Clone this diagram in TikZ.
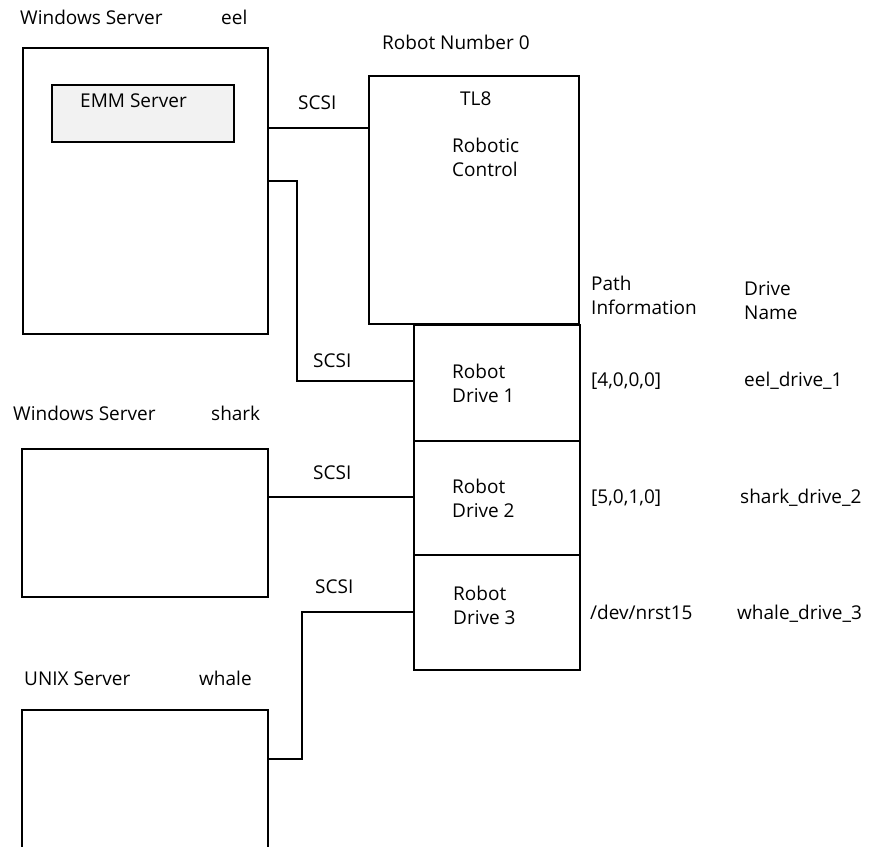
\documentclass[tikz,border=0pt]{standalone}
\usepackage{fontspec}
\setmainfont{Open Sans}
\begin{document}
\begin{tikzpicture}[x=1pt,y=-1pt,
  every node/.style={font=\fontsize{19}{24}\selectfont},
  box/.style={draw, line width=1.5pt, rectangle, inner sep=0pt, anchor=north west},
  lbl/.style={inner sep=0pt, anchor=base west},
  mlbl/.style={inner sep=0pt, anchor=west, align=left},
  wire/.style={line width=1.5pt}]
\clip (0,0) rectangle (877,846);
% boxes
\node[box, minimum width=245pt, minimum height=286pt] (eel) at (22,47) {};
\node[box, fill=black!5, minimum width=182pt, minimum height=57pt] (emm) at (51,84) {};
\node[box, minimum width=210pt, minimum height=248pt] (robot) at (368,75) {};
\node[box, minimum width=166pt, minimum height=116pt] (drive1) at (413,324) {};
\node[box, minimum width=166pt, minimum height=114pt] (drive2) at (413,440) {};
\node[box, minimum width=166pt, minimum height=115pt] (drive3) at (413,554) {};
\node[box, minimum width=246pt, minimum height=148pt] (shark) at (21,448) {};
\node[box, minimum width=246pt, minimum height=160pt] (whale) at (21,709) {};
% labels
\node[lbl] (t1) at (20,24) {Windows Server};
\node[lbl] (t2) at (221,24) {eel};
\node[lbl] (t3) at (382,49) {Robot Number 0};
\node[lbl] (t4) at (80,107) {EMM Server};
\node[lbl] (s1) at (298,109) {SCSI};
\node[lbl] (t5) at (460,105) {TL8};
\node[mlbl] (t6) at (452,157) {Robotic\\Control};
\node[mlbl] (t7) at (591,295) {Path\\Information};
\node[mlbl] (t8) at (744,301) {Drive\\Name};
\node[lbl] (s2) at (313,367) {SCSI};
\node[mlbl] (d1) at (452,383) {Robot\\Drive 1};
\node[lbl] (p1) at (591,386) {[4,0,0,0]};
\node[lbl] (n1) at (744,386) {eel\_drive\_1};
\node[lbl] (t9) at (13,420) {Windows Server};
\node[lbl] (t10) at (211,420) {shark};
\node[lbl] (s3) at (313,479) {SCSI};
\node[mlbl] (d2) at (452,498) {Robot\\Drive 2};
\node[lbl] (p2) at (591,503) {[5,0,1,0]};
\node[lbl] (n2) at (740,503) {shark\_drive\_2};
\node[lbl] (s4) at (315,593) {SCSI};
\node[mlbl] (d3) at (453,605) {Robot\\Drive 3};
\node[lbl] (p3) at (590,619) {/dev/nrst15};
\node[lbl] (n3) at (737,619) {whale\_drive\_3};
\node[lbl] (t11) at (24,685) {UNIX Server};
\node[lbl] (t12) at (199,685) {whale};
% connectors
\coordinate (c1) at (0,128);
\draw[wire] (eel.east |- c1) -- (robot.west |- c1);
\coordinate (k1) at (297,181);
\coordinate (k2) at (297,381);
\draw[wire] (eel.east |- k1) -- (k1) -- (k2) -- (drive1.west |- k2);
\coordinate (c3) at (0,497);
\draw[wire] (shark.east |- c3) -- (drive2.west |- c3);
\coordinate (k3) at (302,759);
\coordinate (k4) at (302,612);
\draw[wire] (whale.east |- k3) -- (k3) -- (k4) -- (drive3.west |- k4);
\end{tikzpicture}
\end{document}
